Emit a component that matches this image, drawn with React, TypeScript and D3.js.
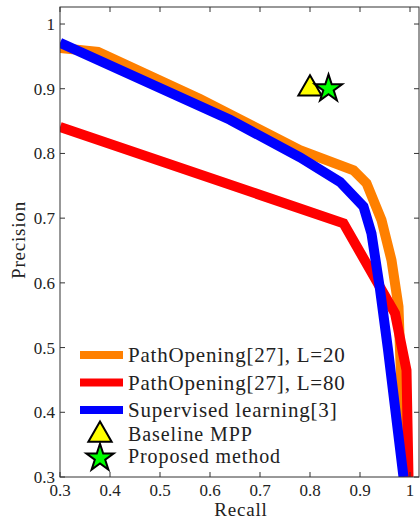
import React from 'react';
import * as d3 from 'd3';

// Precision / recall curves
const recallL20 = [0.3, 0.376, 0.58, 0.78, 0.887, 0.913, 0.943, 0.963, 0.977, 0.98, 0.99];
const precisionL20 = [0.963, 0.957, 0.884, 0.805, 0.774, 0.754, 0.697, 0.635, 0.563, 0.496, 0.3];

const recallL80 = [0.3, 0.867, 0.97, 0.993, 0.997];
const precisionL80 = [0.841, 0.692, 0.553, 0.465, 0.3];

const recallSup = [0.3, 0.64, 0.78, 0.86, 0.907, 0.923, 0.94, 0.956, 0.987];
const precisionSup = [0.971, 0.852, 0.794, 0.756, 0.718, 0.676, 0.59, 0.497, 0.3];

const baselineMPP = [0.8, 0.9];
const proposedMethod = [0.837, 0.9];

const seriesNames = ['PathOpening[27], L=20', 'PathOpening[27], L=80', 'Supervised learning[3]'];
const seriesColors = ['#ff8000', '#ff0000', '#0000ff'];
const markerNames = ['Baseline MPP', 'Proposed method'];

const xTicks = [0.3, 0.4, 0.5, 0.6, 0.7, 0.8, 0.9, 1];
const yTicks = [0.3, 0.4, 0.5, 0.6, 0.7, 0.8, 0.9, 1];

const App = () => {
  const width = 420;
  const height = 521;
  const left = 60;
  const right = 419;
  const top = 7;
  const bottom = 477;

  const x = d3.scaleLinear().domain([0.3, 1.018]).range([left, right]);
  const y = d3.scaleLinear().domain([0.3, 1.0263]).range([bottom, top]);

  const line = d3
    .line<[number, number]>()
    .x((d) => x(d[0]))
    .y((d) => y(d[1]));

  const series = [
    d3.zip(recallL20, precisionL20),
    d3.zip(recallL80, precisionL80),
    d3.zip(recallSup, precisionSup),
  ] as [number, number][][];

  const triangle = d3.symbol(d3.symbolTriangle, 235)();
  const star = d3.symbol(d3.symbolStar, 230)();

  const font = 'Liberation Serif, Times New Roman, serif';
  const textColor = '#222';

  return (
    <svg
      width={width}
      height={height}
      style={{ position: 'absolute', left: 0, top: 0, background: '#fff' }}
    >
      <defs>
        <clipPath id="plotClip">
          <rect x={left} y={top} width={right - left} height={bottom - top} />
        </clipPath>
      </defs>

      {/* curves */}
      <g clipPath="url(#plotClip)">
        {series.map((s, i) => (
          <path
            key={i}
            d={line(s) || ''}
            fill="none"
            stroke={seriesColors[i]}
            strokeWidth={10}
            strokeLinejoin="miter"
          />
        ))}
      </g>

      {/* axes box with inward ticks */}
      <rect x={left} y={top} width={right - left} height={bottom - top} fill="none" stroke="#333" strokeWidth={1} />
      {xTicks.map((t) => (
        <g key={'x' + t}>
          <line x1={x(t)} x2={x(t)} y1={bottom} y2={bottom - 5} stroke="#333" />
          <line x1={x(t)} x2={x(t)} y1={top} y2={top + 5} stroke="#333" />
          <text
            x={x(t)}
            y={496}
            textAnchor="middle"
            fontFamily={font}
            fontSize={17}
            fill={textColor}
          >
            {t}
          </text>
        </g>
      ))}
      {yTicks.map((t) => (
        <g key={'y' + t}>
          <line x1={left} x2={left + 5} y1={y(t)} y2={y(t)} stroke="#333" />
          <line x1={right} x2={right - 5} y1={y(t)} y2={y(t)} stroke="#333" />
          <text
            x={55}
            y={y(t) + 6}
            textAnchor="end"
            fontFamily={font}
            fontSize={17}
            fill={textColor}
          >
            {t}
          </text>
        </g>
      ))}

      {/* axis labels */}
      <text x={241} y={516} textAnchor="middle" fontFamily={font} fontSize={19} letterSpacing={0.8} fill={textColor}>
        Recall
      </text>
      <text
        transform={`translate(25,240) rotate(-90)`}
        textAnchor="middle"
        fontFamily={font}
        fontSize={19}
        letterSpacing={0.8}
        fill={textColor}
      >
        Precision
      </text>

      {/* single-point methods */}
      <path
        d={triangle || ''}
        transform={`translate(${x(baselineMPP[0])},${y(baselineMPP[1])})`}
        fill="#ffff00"
        stroke="#000"
        strokeWidth={2}
      />
      <path
        d={star || ''}
        transform={`translate(${x(proposedMethod[0])},${y(proposedMethod[1])})`}
        fill="#00ff00"
        stroke="#000"
        strokeWidth={2}
      />

      {/* legend */}
      {seriesNames.map((name, i) => (
        <g key={name}>
          <line x1={80} x2={123} y1={355 + i * 27.5} y2={355 + i * 27.5} stroke={seriesColors[i]} strokeWidth={8} />
          <text x={128} y={362 + i * 27.5} fontFamily={font} fontSize={21} letterSpacing={0.8} fill={textColor}>
            {name}
          </text>
        </g>
      ))}
      <path d={triangle || ''} transform="translate(100,435)" fill="#ffff00" stroke="#000" strokeWidth={2} />
      <text x={128} y={441} fontFamily={font} fontSize={20} letterSpacing={0.9} fill={textColor}>
        {markerNames[0]}
      </text>
      <path d={star || ''} transform="translate(100,458)" fill="#00ff00" stroke="#000" strokeWidth={2} />
      <text x={128} y={463} fontFamily={font} fontSize={20} letterSpacing={0.9} fill={textColor}>
        {markerNames[1]}
      </text>
    </svg>
  );
};

export default App;
